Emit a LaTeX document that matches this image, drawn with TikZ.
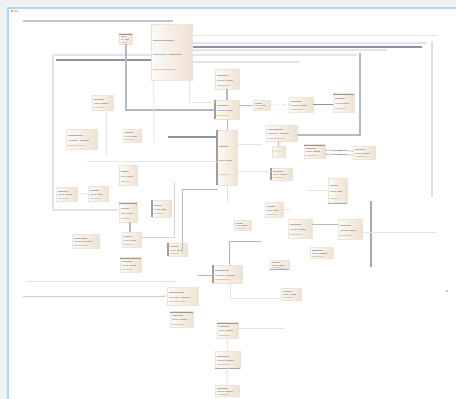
\documentclass[tikz,border=0pt]{standalone}
\usetikzlibrary{fit,calc,arrows.meta}
\definecolor{bgout}{HTML}{F0F0F0}
\definecolor{panelblue}{HTML}{A9DCF0}
\definecolor{boxl}{HTML}{FCFAF7}
\definecolor{boxr}{HTML}{EFE2D2}
\definecolor{boxedge}{HTML}{EDE3D6}
\definecolor{darkline}{HTML}{8A92A6}
\definecolor{midline}{HTML}{B2BACA}
\definecolor{lightline}{HTML}{E4E4E8}
\definecolor{barcol}{HTML}{A89A9A}
\definecolor{hdrcol}{HTML}{9C9494}
\definecolor{rowgray}{HTML}{B8AFA8}
\definecolor{rowblue}{HTML}{A8C4E0}
\definecolor{roworange}{HTML}{E8C8A0}
\tikzset{
  x=1pt,y=-1pt,
  box/.style={draw=boxedge,line width=0.4pt,left color=boxl,right color=boxr,inner sep=0pt},
  framel/.style={draw=lightline,line width=1.2pt},
  thinl/.style={draw=lightline,line width=0.8pt},
  darkl/.style={draw=darkline,line width=2pt},
  midl/.style={draw=midline,line width=1.6pt},
  conn/.style={draw=midline,line width=0.6pt},
  leftbar/.style={draw=barcol,line width=1.4pt},
  hdrbar/.style={draw=hdrcol,line width=0.9pt},
  rowmark/.style={line width=0.8pt},
}
\newcommand{\bx}[5]{\node[box,fit={(#2,#3) (#4,#5)}] (#1) {};}
\begin{document}
\begin{tikzpicture}
\useasboundingbox (0,0) rectangle (456,399);
\fill[bgout] (0,0) rectangle (456,399);
\fill[white] (8,8) rectangle (456,399);
\draw[panelblue,line width=2pt] (8,399) -- (8,8) -- (456,8);
% header mark
\fill[gray!60] (11,10) rectangle (13,12);
\fill[orange!40] (14,10) rectangle (18,12);
% top title rule
\draw[draw=midline!80,line width=1.6pt] (23,21) -- (173,21);
% frames
\draw[framel] (53,55) -- (357,55);
\draw[framel] (53,55) -- (53,210) -- (118,210);
\draw[thinl] (190,35) -- (437,35);
\draw[framel] (192,43) -- (427,43);
\draw[framel] (192,50) -- (387,50);
\draw[framel] (192,62) -- (300,62);
\draw[draw=lightline!90!darkline,line width=1.6pt] (432,42) -- (432,197);
\draw[darkl] (56,60) -- (151,60);
\draw[darkl] (192,47) -- (422,47);
% boxes
\bx{b1}{119}{33}{132}{44}
\bx{b2}{151}{24}{192}{80}
\bx{b3}{215}{69}{239}{89}
\bx{b4}{215}{100}{239}{119}
\bx{b5}{253}{100}{270}{110}
\bx{b6}{289}{97}{313}{112}
\bx{b7}{333}{93}{354}{112}
\bx{b8}{92}{95}{113}{110}
\bx{b9}{66}{129}{97}{149}
\bx{b10}{123}{129}{141}{142}
\bx{b11}{217}{130}{237}{185}
\bx{b12}{266}{125}{297}{141}
\bx{b13a}{272}{146}{285}{150}
\bx{b13b}{272}{151}{285}{157}
\bx{b14}{304}{144}{325}{158}
\bx{b15}{353}{146}{375}{159}
\bx{b16}{271}{168}{292}{180}
\bx{b17}{328}{178}{347}{203}
\bx{b18}{119}{165}{137}{185}
\bx{b19}{56}{187}{77}{201}
\bx{b20}{88}{186}{108}{201}
\bx{b21}{119}{202}{137}{222}
\bx{b22}{152}{200}{171}{217}
\bx{b23}{72}{234}{99}{248}
\bx{b24}{122}{232}{141}{247}
\bx{b25}{168}{243}{187}{256}
\bx{b26}{265}{202}{283}{217}
\bx{b27}{234}{220}{251}{230}
\bx{b28}{288}{219}{312}{238}
\bx{b29}{338}{219}{362}{239}
\bx{b30}{310}{247}{333}{258}
\bx{b31}{120}{257}{141}{272}
\bx{b32}{213}{265}{242}{283}
\bx{b33}{270}{260}{289}{269}
\bx{b34}{167}{287}{198}{305}
\bx{b35}{170}{311}{193}{327}
\bx{b36}{281}{288}{301}{300}
\bx{b37}{217}{322}{238}{338}
\bx{b38}{215}{351}{240}{368}
\bx{b39}{215}{385}{239}{396}
% row texture inside boxes
\foreach \bn in {b1,b2,b3,b4,b5,b6,b7,b8,b9,b10,b11,b12,b14,b15,b16,b17,b18,b19,b20,b21,b22,b23,b24,b25,b26,b27,b28,b29,b30,b31,b32,b33,b34,b35,b36,b37,b38,b39}{
  \draw[rowmark,draw=rowgray] let \p1=(\bn.north west), \p2=(\bn.south east) in
    ({\x1+2pt},{\y1-0.3*(\y1-\y2)}) -- ({\x1+0.55*(\x2-\x1)},{\y1-0.3*(\y1-\y2)});
  \draw[rowmark,draw=rowblue] let \p1=(\bn.north west), \p2=(\bn.south east) in
    ({\x1+2pt},{\y1-0.55*(\y1-\y2)}) -- ({\x1+0.4*(\x2-\x1)},{\y1-0.55*(\y1-\y2)});
  \draw[rowmark,draw=rowgray] let \p1=(\bn.north west), \p2=(\bn.south east) in
    ({\x1+0.45*(\x2-\x1)},{\y1-0.55*(\y1-\y2)}) -- ({\x1+0.75*(\x2-\x1)},{\y1-0.55*(\y1-\y2)});
  \draw[rowmark,draw=roworange] let \p1=(\bn.north west), \p2=(\bn.south east) in
    ({\x1+2pt},{\y1-0.8*(\y1-\y2)}) -- ({\x1+0.6*(\x2-\x1)},{\y1-0.8*(\y1-\y2)});
}
% bars on boxes
\foreach \bn in {b4,b11,b16,b22,b25,b32}{\draw[leftbar] (\bn.north west) -- (\bn.south west);}
\foreach \bn in {b17,b33,b38}{\draw[leftbar,draw=darkline!80] (\bn.south west) -- (\bn.south east);}
\foreach \bn in {b1,b7,b14,b21,b31,b35,b37}{\draw[hdrbar] ($(\bn.north west)+(0,2)$) -- ($(\bn.north east)+(0,2)$);}
% connectors
\coordinate (c1) at (126,110);
\draw[midl] (b1.south -| c1) -- (c1) -- (b4.west |- c1);
\draw[thinl] ($(b2.south west)+(3,0)$) -- (154,143);
\coordinate (c2) at (189,102);
\draw[thinl] (b2.south -| c2) -- (c2) -- (b4.west |- c2);
\draw[midl,line width=1.2pt] (b3.south) -- (b4.north);
\draw[conn] (b4.south) -- (b11.north);
\draw[conn] (b4.east |- b5.west) -- (b5.west);
\draw[thinl,dashed,draw=orange!30] (b5.east) -- (b6.west);
\coordinate (c3) at (313,104);
\draw[darkl,line width=0.7pt] (c3) -- (b7.west |- c3);
\draw[thinl] (b8.south -| 106,0) -- (106,155);
\coordinate (c4) at (168,137);
\draw[darkl] (c4) -- (b11.west |- c4);
\coordinate (c5) at (262,144);
\draw[thinl] (b11.east |- c5) -- (c5);
\coordinate (c6) at (297,135);
\coordinate (c7) at (360,53);
\draw[midl,line width=1.4pt] (b12.east |- c6) -- (c6 -| c7) -- (c7);
\draw[conn] (b12.south -| b13a.north) -- (b13a.north);
\draw[darkl,line width=0.6pt] ($(b14.east)+(0,-1)$) -- ($(b15.west)+(0,-1.5)$);
\draw[darkl,line width=0.6pt] ($(b14.east)+(0,3)$) -- ($(b15.west)+(0,2.5)$);
\draw[thinl] (87,161) -- (b11.west |- 0,161);
\coordinate (c8) at (237,171);
\draw[thinl] (c8) -- (b16.west |- c8);
\draw[thinl] (b19.east) -- (b20.west);
\draw[midl,line width=1.8pt] (b21.south -| 130,0) -- (b24.north -| 130,0);
\coordinate (c9) at (174,182);
\coordinate (c10) at (174,237);
\draw[draw=lightline!80!darkline,line width=1pt] (c9) -- (c10) -- (b24.east |- c10);
\coordinate (c11) at (182,253);
\coordinate (c12) at (182,189);
\draw[draw=midline,line width=1pt] (c11) -- (c12) -- (218,189);
\draw[thinl] (b11.south) -- ($(b11.south)+(0,17)$);
\draw[draw=darkline!80,line width=2pt] (371,201) -- (371,267);
\coordinate (c13) at (362,232);
\draw[thinl] (c13) -- (437,232);
\coordinate (c14) at (312,224);
\draw[conn] (c14) -- (b29.west |- c14);
\coordinate (c15) at (229,241);
\draw[draw=darkline!70,line width=1pt] (261,241) -- (c15) -- (b32.north -| c15);
\coordinate (c16) at (198,275);
\draw[conn] (c16) -- (b32.west |- c16);
\coordinate (c17) at (230,298);
\draw[thinl] (b32.south -| c17) -- (c17) -- (b36.west |- c17);
\draw[draw=lightline,line width=1pt] (26,281) -- (176,281);
\coordinate (c18) at (23,296);
\draw[draw=lightline!80!gray,line width=0.8pt,-{Stealth[length=3pt]}] (c18) -- (b34.west |- c18);
\coordinate (c19) at (285,328);
\draw[thinl] (b37.east |- c19) -- (c19);
\draw[thinl] (b37.south) -- (b38.north);
\draw[thinl] (b38.south) -- (b39.north);
\draw[thinl] (b17.west) -- ++(-20,0);
\draw[thinl] (b26.east) -- ++(8,0);
\fill[darkline] (447,291) circle (0.8);
\end{tikzpicture}
\end{document}
